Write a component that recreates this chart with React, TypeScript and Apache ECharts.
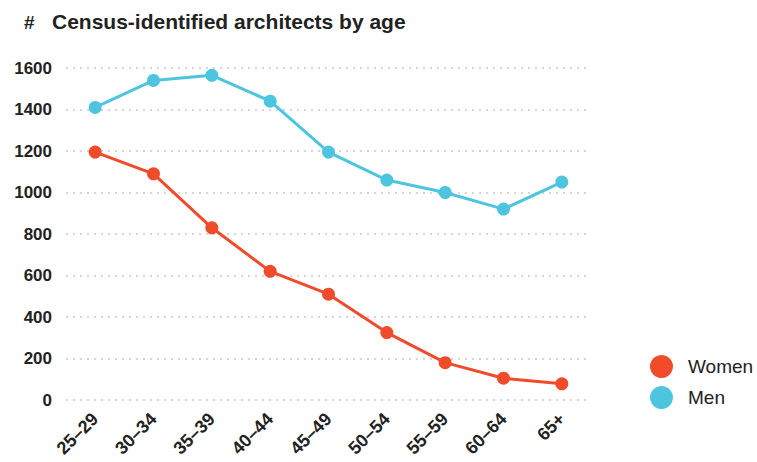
import React, { useEffect, useRef } from "react";
import * as echarts from "echarts";

const categories = ["25–29", "30–34", "35–39", "40–44", "45–49", "50–54", "55–59", "60–64", "65+"];
const women = [1195, 1090, 830, 620, 510, 325, 180, 105, 78];
const men = [1410, 1540, 1565, 1440, 1195, 1060, 1000, 920, 1050];
const yTicks = { min: 0, max: 1600, interval: 200 };
const titleText = "Census-identified architects by age";

const WOMEN_COLOR = "#f04b2b";
const MEN_COLOR = "#4dc5df";
const FONT = "'Liberation Sans', Arial, Helvetica, sans-serif";

export default function App() {
  const ref = useRef<HTMLDivElement>(null);
  useEffect(() => {
    if (!ref.current) return;
    const chart = echarts.init(ref.current, null, { renderer: "svg" });
    chart.setOption({
      animation: false,
      backgroundColor: "#ffffff",
      textStyle: { fontFamily: FONT },
      graphic: [
        {
          type: "text",
          left: 24,
          top: 13,
          style: { text: "#", font: `bold 19px ${FONT}`, fill: "#222" },
        },
        {
          type: "text",
          left: 52,
          top: 11,
          style: { text: titleText, font: `bold 21px ${FONT}`, fill: "#222" },
        },
      ],
      legend: {
        orient: "vertical",
        left: 645,
        top: 350,
        icon: "circle",
        itemWidth: 23,
        itemHeight: 23,
        itemGap: 8,
        textStyle: { fontSize: 19, color: "#222", fontFamily: FONT, padding: [0, 0, 0, 10] },
        data: ["Women", "Men"],
      },
      grid: {
        left: 66,
        right: 166,
        top: 68,
        bottom: 62,
        containLabel: false,
        outerBoundsMode: "none",
      },
      xAxis: {
        type: "category",
        data: categories,
        boundaryGap: true,
        axisLine: { show: false },
        axisTick: { show: false },
        axisLabel: {
          rotate: 45,
          margin: 16,
          fontSize: 18,
          fontWeight: "bold",
          color: "#222",
          fontFamily: FONT,
          interval: 0,
          padding: [6, 0, 0, 0],
        },
      },
      yAxis: {
        type: "value",
        min: yTicks.min,
        max: yTicks.max,
        interval: yTicks.interval,
        axisLine: { show: false },
        axisTick: { show: false },
        axisLabel: {
          fontSize: 17,
          fontWeight: "bold",
          color: "#222",
          margin: 14,
          fontFamily: FONT,
          formatter: (v: number) => String(v),
        },
        splitLine: {
          show: true,
          lineStyle: { color: "#d6d6d6", width: 2, type: [2, 5] },
        },
      },
      series: [
        {
          name: "Women",
          type: "line",
          data: women,
          symbol: "circle",
          symbolSize: 13,
          lineStyle: { width: 3, color: WOMEN_COLOR },
          itemStyle: { color: WOMEN_COLOR },
        },
        {
          name: "Men",
          type: "line",
          data: men,
          symbol: "circle",
          symbolSize: 13,
          lineStyle: { width: 3, color: MEN_COLOR },
          itemStyle: { color: MEN_COLOR },
        },
      ],
    });
    return () => chart.dispose();
  }, []);
  return (
    <div
      ref={ref}
      style={{ position: "fixed", left: 0, top: 0, width: 757, height: 462 }}
    />
  );
}
